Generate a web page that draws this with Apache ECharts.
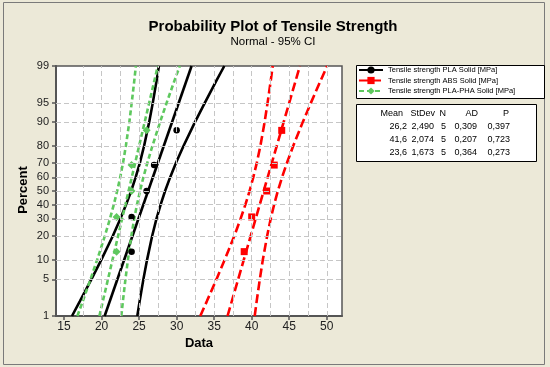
<!DOCTYPE html>
<html><head><meta charset="utf-8">
<script src="https://cdn.jsdelivr.net/npm/echarts@6/dist/echarts.min.js"></script>
<style>html,body{margin:0;padding:0;background:#ECE9D8}#c{width:550px;height:367px}</style>
</head><body><div id="c"></div>
<script>
// ---------- data ----------
const yTickPercents = [1,5,10,20,30,40,50,60,70,80,90,95,99];
const xTickValues = [15,20,25,30,35,40,45,50];
const xGridValues = [15,17.5,20,22.5,25,27.5,30,32.5,35,37.5,40,42.5,45,47.5,50];
const rankPercents = [12.96,31.48,50,68.52,87.04];
const plaValues = [24,24,26,27,30];
const absValues = [39,40,42,43,44];
const phaValues = [22,22,24,24,26];
const fitPercents = [1,99];
const plaFit = [20.41,31.99];
const absFit = [36.78,46.42];
const phaFit = [19.71,27.49];
const curvePercents = [1,2,5,10,20,30,40,50,60,70,80,90,95,98,99];
const plaLower = [16.06,17.10,18.64,19.96,21.48,22.48,23.27,23.94,24.54,25.10,25.67,26.34,26.83,27.33,27.64];
const plaUpper = [24.76,25.07,25.57,26.06,26.73,27.30,27.87,28.46,29.13,29.92,30.93,32.44,33.77,35.30,36.35];
const absLower = [33.15,34.02,35.30,36.40,37.67,38.50,39.16,39.72,40.21,40.68,41.16,41.72,42.12,42.54,42.80];
const absUpper = [40.40,40.66,41.08,41.48,42.05,42.52,42.99,43.48,44.04,44.70,45.54,46.80,47.90,49.18,50.05];
const phaLower = [16.78,17.49,18.52,19.41,20.43,21.10,21.63,22.08,22.48,22.86,23.24,23.70,24.02,24.36,24.57];
const phaUpper = [22.63,22.84,23.18,23.51,23.96,24.34,24.72,25.12,25.57,26.10,26.78,27.79,28.68,29.71,30.42];
const seriesNames = ['Tensile strength PLA Solid [MPa]','Tensile strength ABS Solid [MPa]','Tensile strength PLA-PHA Solid [MPa]'];
const tableHeader = ['Mean','StDev','N','AD','P'];
const tableRows = [
  ['26,2','2,490','5','0,309','0,397'],
  ['41,6','2,074','5','0,207','0,723'],
  ['23,6','1,673','5','0,364','0,273']
];
const titleText = 'Probability Plot of Tensile Strength';
const subtitleText = 'Normal - 95% CI';

// ---------- probit scale transform ----------
function probit(p){
  const a=[-3.969683028665376e+01,2.209460984245205e+02,-2.759285104469687e+02,1.383577518672690e+02,-3.066479806614716e+01,2.506628277459239e+00];
  const b=[-5.447609879822406e+01,1.615858368580409e+02,-1.556989798598866e+02,6.680131188771972e+01,-1.328068155288572e+01];
  const c=[-7.784894002430293e-03,-3.223964580411365e-01,-2.400758277161838e+00,-2.549671495864469e+00,4.374664141464968e+00,2.938163982698783e+00];
  const d=[7.784695709041462e-03,3.224671290700398e-01,2.445134137142996e+00,3.754408661907416e+00];
  const pl=0.02425, ph=1-pl; let q,r;
  if(p<pl){q=Math.sqrt(-2*Math.log(p));return (((((c[0]*q+c[1])*q+c[2])*q+c[3])*q+c[4])*q+c[5])/((((d[0]*q+d[1])*q+d[2])*q+d[3])*q+1);}
  if(p<=ph){q=p-0.5;r=q*q;return (((((a[0]*r+a[1])*r+a[2])*r+a[3])*r+a[4])*r+a[5])*q/(((((b[0]*r+b[1])*r+b[2])*r+b[3])*r+b[4])*r+1);}
  q=Math.sqrt(-2*Math.log(1-p));return -(((((c[0]*q+c[1])*q+c[2])*q+c[3])*q+c[4])*q+c[5])/((((d[0]*q+d[1])*q+d[2])*q+d[3])*q+1);
}
const zOf = pct => probit(pct/100);
const pairs = (xs, pcts) => xs.map((x,i)=>[x, zOf(pcts[i])]);

const FONT = 'Liberation Sans, Arial, sans-serif';
const colors = ['#000000','#ff0000','#5ec85e'];
const dashes = ['solid',[9,4],[5,3]];
const symbols = ['circle','rect','diamond'];
const symSizes = [6.5,7,8];
const LW = 2.6;

const groups = [
  {fit:plaFit, lo:plaLower, up:plaUpper, pts:plaValues},
  {fit:absFit, lo:absLower, up:absUpper, pts:absValues},
  {fit:phaFit, lo:phaLower, up:phaUpper, pts:phaValues}
];

const series = [];
// gridlines
series.push({
  type:'line', data:[], silent:true, z:1,
  markLine:{
    silent:true, symbol:['none','none'], label:{show:false}, animation:false,
    lineStyle:{color:'#c6c6c6', type:[5,3], width:1},
    data: xGridValues.filter(v=>v>15).map(v=>({xAxis:v}))
      .concat(yTickPercents.filter(p=>p>1&&p<99).map(p=>({yAxis:zOf(p)})))
  }
});
groups.forEach((g,i)=>{
  const ls = {color:colors[i], width:LW, type:dashes[i]};
  series.push({name:seriesNames[i], type:'line', data:pairs(g.fit, fitPercents), showSymbol:false,
    symbol:symbols[i], symbolSize:symSizes[i], itemStyle:{color:colors[i], borderWidth:0}, lineStyle:ls, z:2, silent:true});
  series.push({name:'lo'+i, type:'line', data:pairs(g.lo, curvePercents), showSymbol:false, symbol:'none',
    itemStyle:{color:colors[i]}, lineStyle:ls, z:2, silent:true});
  series.push({name:'up'+i, type:'line', data:pairs(g.up, curvePercents), showSymbol:false, symbol:'none',
    itemStyle:{color:colors[i]}, lineStyle:ls, z:2, silent:true});
  series.push({name:'pts'+i, type:'scatter', data:pairs(g.pts, rankPercents), symbol:symbols[i],
    symbolSize:symSizes[i], itemStyle:{color:colors[i], opacity:1, borderWidth:0, borderColor:colors[i]}, z:3, silent:true});
});

const graphics = [
  {type:'rect', shape:{x:3.5,y:2.5,width:541,height:362}, style:{fill:null, stroke:'#7a7a7a', lineWidth:1}, z:0},
  {type:'rect', shape:{x:356.5,y:65.5,width:188,height:33}, style:{fill:'#fff', stroke:'#000', lineWidth:1}, z:0},
  {type:'rect', shape:{x:356.5,y:104.5,width:180,height:57}, style:{fill:'#fff', stroke:'#000', lineWidth:1}, z:0},
  {type:'text', x:273, y:27, style:{text:titleText, font:'bold 15px '+FONT, fill:'#000', textAlign:'center', textVerticalAlign:'middle'}},
  {type:'text', x:273, y:42, style:{text:subtitleText, font:'11.5px '+FONT, fill:'#000', textAlign:'center', textVerticalAlign:'middle'}},
  {type:'text', x:23, y:190, rotation:Math.PI/2, style:{text:'Percent', font:'bold 13px '+FONT, fill:'#000', textAlign:'center', textVerticalAlign:'middle'}},
  {type:'text', x:199, y:343, style:{text:'Data', font:'bold 13px '+FONT, fill:'#000', textAlign:'center', textVerticalAlign:'middle'}}
];
const colRight = [403,435,446,478,509];
const valRight = [407,434,446,477,510];
const rowY = [114,127,140,153];
tableHeader.forEach((h,j)=>graphics.push({type:'text', x:colRight[j], y:rowY[0], z:2,
  style:{text:h, font:'9px '+FONT, fill:'#000', textAlign:'right', textVerticalAlign:'middle'}}));
tableRows.forEach((row,r)=>row.forEach((v,j)=>graphics.push({type:'text', x:valRight[j], y:rowY[r+1], z:2,
  style:{text:v, font:'9px '+FONT, fill:'#000', textAlign:'right', textVerticalAlign:'middle'}})));

const chart = echarts.init(document.getElementById('c'), null, {renderer:'canvas'});
chart.setOption({
  animation:false,
  backgroundColor:'#ECE9D8',
  grid:{left:56, top:66, width:286, height:250, show:true, backgroundColor:'#fff', borderColor:'#555', borderWidth:1.5, containLabel:false, outerBoundsMode:'none'},
  xAxis:{type:'value', min:13.93, max:52.03,
    axisLine:{show:true, onZero:false, lineStyle:{color:'#555', width:2}},
    axisTick:{show:true, length:4, lineStyle:{color:'#555', width:1.5}, customValues:xTickValues},
    axisLabel:{show:true, customValues:xTickValues, margin:5, color:'#222', fontSize:12, fontFamily:FONT},
    splitLine:{show:false}},
  yAxis:{type:'value', min:zOf(yTickPercents[0]), max:zOf(yTickPercents[yTickPercents.length-1]),
    axisLine:{show:true, onZero:false, lineStyle:{color:'#555', width:2}},
    axisTick:{show:true, length:4, lineStyle:{color:'#555', width:1.5}, customValues:yTickPercents.map(zOf)},
    axisLabel:{show:true, customValues:yTickPercents.map(zOf), margin:7, color:'#222', fontSize:11, fontFamily:FONT,
      formatter:v=>{let best=yTickPercents[0],bd=1e9;yTickPercents.forEach(p=>{const dd=Math.abs(zOf(p)-v);if(dd<bd){bd=dd;best=p;}});return String(best);}},
    splitLine:{show:false}},
  legend:{show:true, orient:'vertical', left:358, top:66, padding:0, itemGap:2.5, itemWidth:24, itemHeight:9, z:5,
    data:seriesNames, selectedMode:false, textStyle:{fontSize:7.5, color:'#000', fontFamily:FONT}},
  graphic:graphics,
  series:series
});
</script></body></html>
